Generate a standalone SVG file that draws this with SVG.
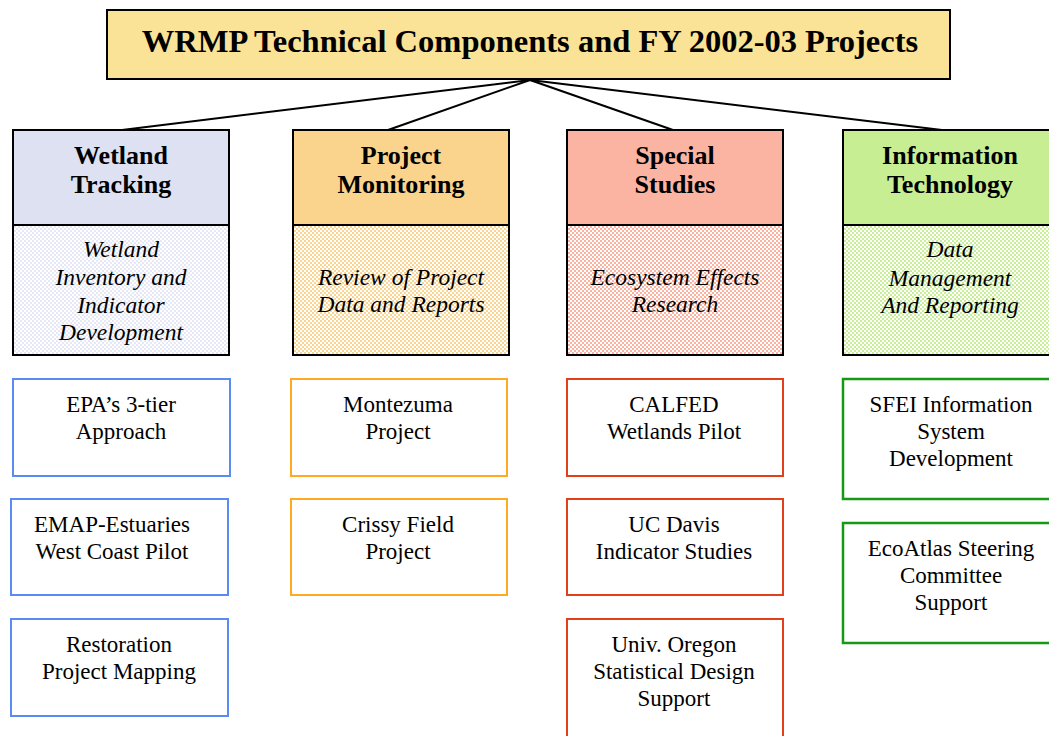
<svg xmlns="http://www.w3.org/2000/svg" width="1049" height="736" viewBox="0 0 1049 736">
<defs>
<pattern id="pb" width="4" height="4" patternUnits="userSpaceOnUse"><rect width="4" height="4" fill="#ffffff"/><rect width="2" height="2" fill="#E6E8F5"/><rect x="2" y="2" width="2" height="2" fill="#E6E8F5"/></pattern>
<pattern id="po" width="4" height="4" patternUnits="userSpaceOnUse"><rect width="4" height="4" fill="#ffffff"/><rect width="2" height="2" fill="#FAD592"/><rect x="2" y="2" width="2" height="2" fill="#FAD592"/></pattern>
<pattern id="pr" width="4" height="4" patternUnits="userSpaceOnUse"><rect width="4" height="4" fill="#ffffff"/><rect width="2" height="2" fill="#FBB2A0"/><rect x="2" y="2" width="2" height="2" fill="#FBB2A0"/></pattern>
<pattern id="pg" width="4" height="4" patternUnits="userSpaceOnUse"><rect width="4" height="4" fill="#ffffff"/><rect width="2" height="2" fill="#C8EE98"/><rect x="2" y="2" width="2" height="2" fill="#C8EE98"/></pattern>
</defs>
<style>
.hd{stroke:#000;stroke-width:2}
.bd{stroke:#000;stroke-width:2}
.ht{font-family:"Liberation Serif","Times New Roman",serif;font-weight:bold;font-size:26px;text-anchor:middle;fill:#000}
.it{font-family:"Liberation Serif","Times New Roman",serif;font-style:italic;font-size:23.5px;text-anchor:middle;fill:#000}
.pt{font-family:"Liberation Serif","Times New Roman",serif;font-size:23px;text-anchor:middle;fill:#000}
.b{fill:#fff;stroke:#5A8CF0;stroke-width:2}
.o{fill:#fff;stroke:#FFAA22;stroke-width:2}
.r{fill:#fff;stroke:#E2401A;stroke-width:2}
.g{fill:#fff;stroke:#169A16;stroke-width:2.5}
.cn{stroke:#000;stroke-width:2;fill:none}
</style>
<rect width="1049" height="736" fill="#fff"/>
<g id="connectors">
<line class="cn" x1="530" y1="80" x2="122" y2="130"/>
<line class="cn" x1="530" y1="80" x2="388" y2="130"/>
<line class="cn" x1="530" y1="80" x2="673" y2="130"/>
<line class="cn" x1="530" y1="80" x2="942" y2="130"/>
</g>
<g id="title">
<rect x="107" y="10" width="843" height="69" fill="#FAE396" stroke="#000" stroke-width="2"/>
<text x="530" y="52" font-family="'Liberation Serif','Times New Roman',serif" font-weight="bold" font-size="32.5" text-anchor="middle">WRMP Technical Components and FY 2002-03 Projects</text>
</g>
<g id="wetland-tracking">
<rect x="13" y="225" width="216" height="130" fill="url(#pb)" class="bd"/>
<rect x="13" y="130" width="216" height="95" fill="#DDE1F2" class="hd"/>
<text class="ht" x="121" y="164">Wetland</text>
<text class="ht" x="121" y="193">Tracking</text>
<text class="it" x="121" y="257">Wetland</text>
<text class="it" x="121" y="285">Inventory and</text>
<text class="it" x="121" y="313">Indicator</text>
<text class="it" x="121" y="340">Development</text>
</g>
<g id="project-monitoring">
<rect x="293" y="225" width="216" height="130" fill="url(#po)" class="bd"/>
<rect x="293" y="130" width="216" height="95" fill="#FAD48C" class="hd"/>
<text class="ht" x="401" y="164">Project</text>
<text class="ht" x="401" y="193">Monitoring</text>
<text class="it" x="401" y="285">Review of Project</text>
<text class="it" x="401" y="312">Data and Reports</text>
</g>
<g id="special-studies">
<rect x="567" y="225" width="216" height="130" fill="url(#pr)" class="bd"/>
<rect x="567" y="130" width="216" height="95" fill="#FBB4A2" class="hd"/>
<text class="ht" x="675" y="164">Special</text>
<text class="ht" x="675" y="193">Studies</text>
<text class="it" x="675" y="285">Ecosystem Effects</text>
<text class="it" x="675" y="312">Research</text>
</g>
<g id="information-technology">
<rect x="843" y="225" width="216" height="130" fill="url(#pg)" class="bd"/>
<rect x="843" y="130" width="216" height="95" fill="#C8EE94" class="hd"/>
<text class="ht" x="950" y="164">Information</text>
<text class="ht" x="950" y="193">Technology</text>
<text class="it" x="950" y="257">Data</text>
<text class="it" x="950" y="286">Management</text>
<text class="it" x="950" y="313">And Reporting</text>
</g>
<g id="epa-3tier">
<rect class="b" x="13" y="379" width="217" height="97"/>
<text class="pt" x="121" y="412">EPA’s 3-tier</text>
<text class="pt" x="121" y="439">Approach</text>
</g>
<g id="emap">
<rect class="b" x="11" y="499" width="217" height="96"/>
<text class="pt" x="112" y="532">EMAP-Estuaries</text>
<text class="pt" x="112" y="559">West Coast Pilot</text>
</g>
<g id="restoration">
<rect class="b" x="11" y="619" width="217" height="97"/>
<text class="pt" x="119" y="652">Restoration</text>
<text class="pt" x="119" y="679">Project Mapping</text>
</g>
<g id="montezuma">
<rect class="o" x="291" y="379" width="216" height="97"/>
<text class="pt" x="398" y="412">Montezuma</text>
<text class="pt" x="398" y="439">Project</text>
</g>
<g id="crissy-field">
<rect class="o" x="291" y="499" width="216" height="96"/>
<text class="pt" x="398" y="532">Crissy Field</text>
<text class="pt" x="398" y="559">Project</text>
</g>
<g id="calfed">
<rect class="r" x="567" y="379" width="216" height="97"/>
<text class="pt" x="674" y="412">CALFED</text>
<text class="pt" x="674" y="439">Wetlands Pilot</text>
</g>
<g id="uc-davis">
<rect class="r" x="567" y="499" width="216" height="96"/>
<text class="pt" x="674" y="532">UC Davis</text>
<text class="pt" x="674" y="559">Indicator Studies</text>
</g>
<g id="univ-oregon">
<rect class="r" x="567" y="619" width="216" height="130"/>
<text class="pt" x="674" y="652">Univ. Oregon</text>
<text class="pt" x="674" y="679">Statistical Design</text>
<text class="pt" x="674" y="706">Support</text>
</g>
<g id="sfei">
<rect class="g" x="843" y="379" width="216" height="120"/>
<text class="pt" x="951" y="412">SFEI Information</text>
<text class="pt" x="951" y="439">System</text>
<text class="pt" x="951" y="466">Development</text>
</g>
<g id="ecoatlas">
<rect class="g" x="843" y="523" width="216" height="120"/>
<text class="pt" x="951" y="556">EcoAtlas Steering</text>
<text class="pt" x="951" y="583">Committee</text>
<text class="pt" x="951" y="610">Support</text>
</g>
</svg>
